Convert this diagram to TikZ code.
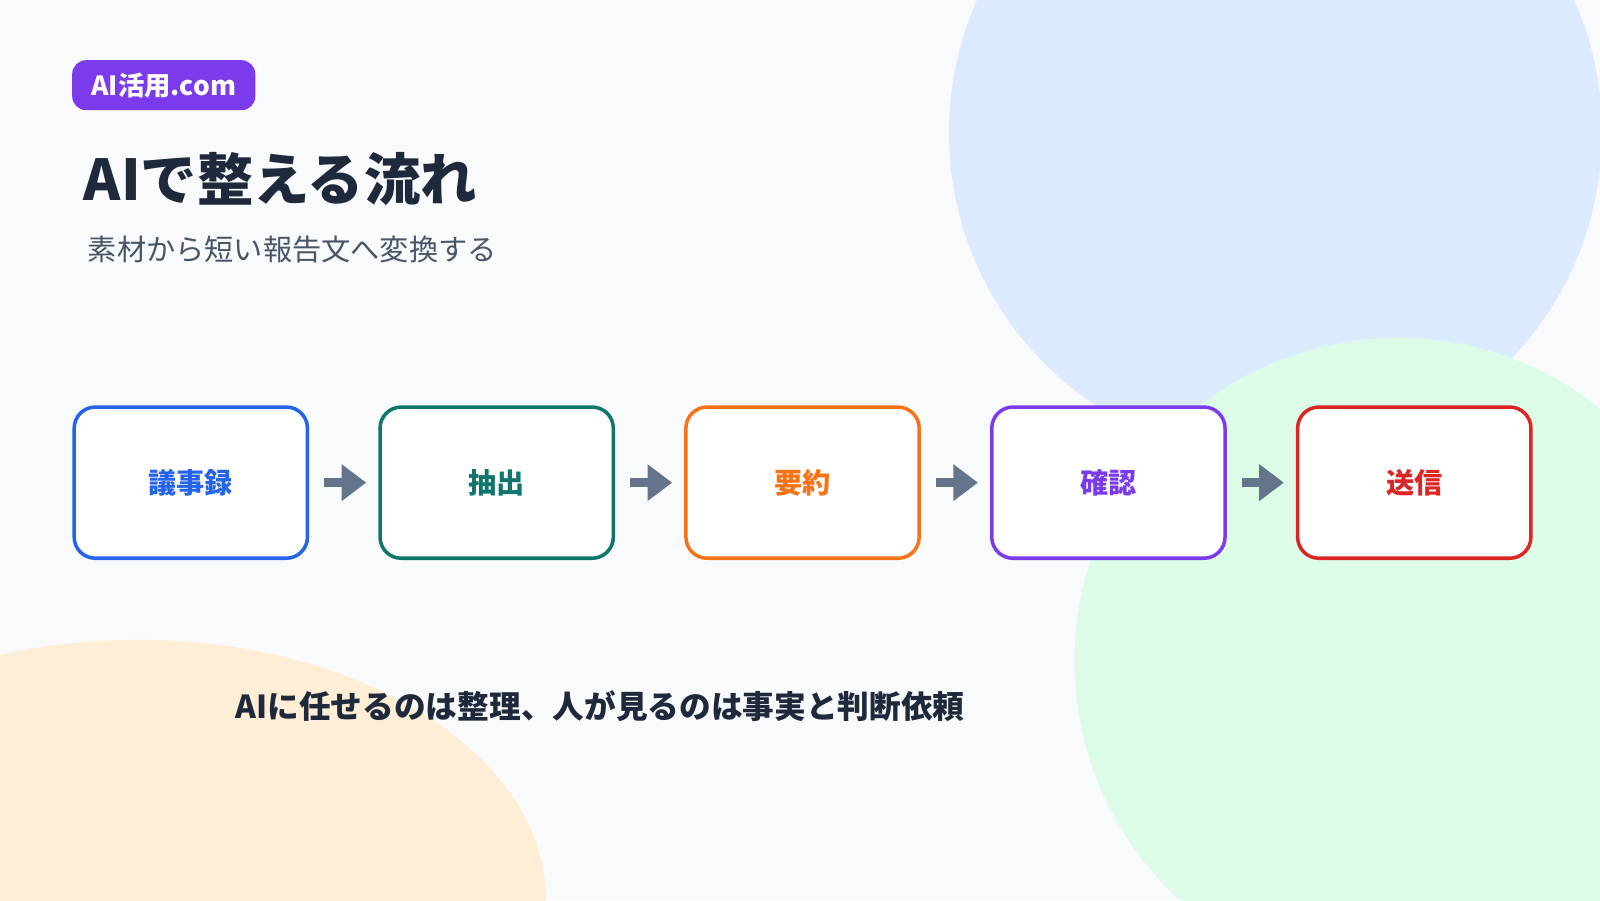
\documentclass[tikz,border=0pt]{standalone}
\usepackage{fontspec}
\setmainfont{Noto Sans CJK JP}
\usetikzlibrary{positioning, arrows.meta}
\definecolor{bgcol}{HTML}{F8FAFC}
\definecolor{ink}{HTML}{1E293B}
\definecolor{sub}{HTML}{475569}
\definecolor{arr}{HTML}{64748B}
\definecolor{cblue}{HTML}{2563EB}
\definecolor{cteal}{HTML}{0F766E}
\definecolor{corange}{HTML}{F97316}
\definecolor{cpurple}{HTML}{7C3AED}
\definecolor{cred}{HTML}{DC2626}
\definecolor{blobblue}{HTML}{DBEAFE}
\definecolor{blobgreen}{HTML}{DCFCE7}
\definecolor{bloborange}{HTML}{FFEDD5}
\tikzset{
  step/.style={rectangle, rounded corners=6pt, draw=#1, line width=1pt, fill=white,
    minimum width=2.33cm, minimum height=1.51cm, text=#1, font=\bfseries\fontsize{8}{10}\selectfont},
  flow/.style={draw=arr, line width=2.6pt, -{Triangle[length=7pt,width=10pt]}}
}
\begin{document}
\begin{tikzpicture}[x=0.0102cm, y=-0.0102cm]
  \useasboundingbox (0,0) rectangle (1568,882);
  \fill[bgcol] (0,0) rectangle (1568,882);
  \begin{scope}
    \clip (0,0) rectangle (1568,882);
    \fill[blobblue] (1250,130) circle (320);
    \fill[blobgreen] (1370,648) circle (317);
    \fill[bloborange] (135,882) ellipse (400 and 255);
  \end{scope}

  % titles
  \node (badge) [fill=cpurple, rounded corners=4pt, minimum width=1.83cm, minimum height=0.5cm,
    text=white, font=\bfseries\fontsize{7.5}{9}\selectfont] at (160.5,83.5) {AI活用.com};
  \node (title) [anchor=west, text=ink, font=\bfseries\fontsize{16}{19}\selectfont] at (70,175) {AIで整える流れ};
  \node (subtitle) [anchor=west, text=sub, font=\fontsize{8.3}{10}\selectfont] at (74,245) {素材から短い報告文へ変換する};

  % steps
  \node (s1) [step=cblue] at (187,473) {議事録};
  \node (s2) [step=cteal, right=0.69cm of s1] {抽出};
  \node (s3) [step=corange, right=0.69cm of s2] {要約};
  \node (s4) [step=cpurple, right=0.69cm of s3] {確認};
  \node (s5) [step=cred, right=0.69cm of s4] {送信};

  \foreach \a/\b in {s1/s2, s2/s3, s3/s4, s4/s5}
    \draw[flow] ([xshift=0.15cm]\a.east) -- ([xshift=-0.12cm]\b.west);

  \node (note) [text=ink, font=\bfseries\fontsize{9}{11}\selectfont] at (588,692)
    {AIに任せるのは整理、人が見るのは事実と判断依頼};
\end{tikzpicture}
\end{document}
